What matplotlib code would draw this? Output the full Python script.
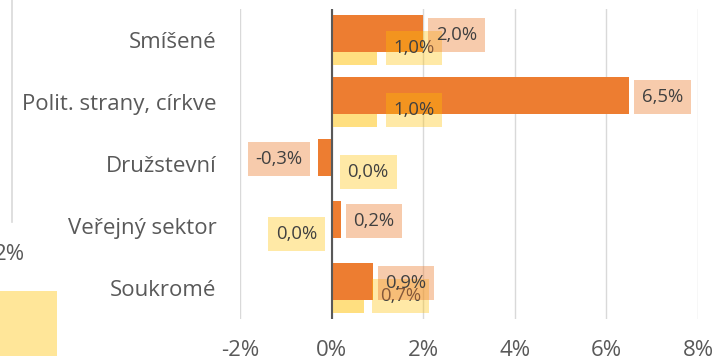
# -*- coding: utf-8 -*-

import numpy as np
import matplotlib
matplotlib.use('Agg')
import matplotlib.pyplot as plt
from matplotlib.patches import Rectangle
from matplotlib.lines import Line2D


# global plotting options
plt.rcParams['font.family'] = ['Open Sans', 'DejaVu Sans']
plt.rcParams['font.size'] = 12
plt.rcParams['axes.labelcolor'] = '#595959'
plt.rcParams['xtick.color'] = '#595959'
plt.rcParams['ytick.color'] = '#595959'

# data (bottom to top)
categories = ['Soukromé', 'Veřejný sektor', 'Družstevní',
              'Polit. strany, církve', 'Smíšené']
orange_vals = [0.9, 0.2, -0.3, 6.5, 2.0]
yellow_vals = [0.7, 0.0, 0.0, 1.0, 1.0]
x_ticks = [-2, 0, 2, 4, 6, 8]

# label of the zero value in 'Veřejný sektor' sits left of the axis
yellow_left = [False, True, False, False, False]

c_orange = '#ED7D31'
c_yellow = '#FFDF80'


def fmt(v):
    return ('%.1f' % v).replace('.', ',') + '%'


fig = plt.figure(figsize=(7.15, 3.56), dpi=100)
ax = fig.add_axes([240 / 715, 1 - 319 / 356, 458 / 715, 310 / 356])

y = np.arange(len(categories))
h = 0.61
off = 0.105

ax.barh(y - off, yellow_vals, height=h, color=c_yellow, zorder=2)
ax.barh(y + off, orange_vals, height=h, color=c_orange, zorder=3)

# data labels
lab = dict(fontsize=13.3, color='#404040', va='center',
           textcoords='offset points')
for i, v in enumerate(yellow_vals):
    left = yellow_left[i] or v < 0
    ax.annotate(fmt(v), (v, y[i] - off),
                xytext=(-10.5 if left else 11.5, -1),
                ha='right' if left else 'left', zorder=5,
                bbox=dict(boxstyle='square,pad=0.42', fc='#FFC000',
                          ec='none', alpha=0.35), **lab)
for i, v in enumerate(orange_vals):
    left = v < 0
    ax.annotate(fmt(v), (v, y[i] + off),
                xytext=(-11 if left else 9, -1),
                ha='right' if left else 'left', zorder=6,
                bbox=dict(boxstyle='square,pad=0.42', fc=c_orange,
                          ec='none', alpha=0.4), **lab)

ax.set_xlim(-2, 8)
ax.set_ylim(-0.5, len(categories) - 0.5)
ax.set_xticks(x_ticks)
ax.set_xticklabels(['%d%%' % t for t in x_ticks])
ax.set_yticks(y)
ax.set_yticklabels(categories)
ax.tick_params(axis='both', length=0, labelsize=16)
ax.tick_params(axis='x', pad=15)
ax.tick_params(axis='y', pad=17)

ax.grid(axis='x', color='#D9D9D9', linewidth=1, zorder=0)
ax.set_axisbelow(True)
ax.axvline(0, color='#595959', linewidth=1.5, zorder=4)
for s in ax.spines.values():
    s.set_visible(False)

# pieces of the neighbouring chart on the left
fig.add_artist(Line2D([12 / 715, 12 / 715], [1 - 222 / 356, 1.0],
                      color='#D9D9D9', linewidth=1.2))
fig.text(25 / 715, 1 - 255 / 356, '2%', ha='right', va='center',
         fontsize=16, color='#595959')
fig.add_artist(Rectangle((0, 0), 57 / 715, 65 / 356, color='#FFE699',
                         linewidth=0))

plt.savefig('out.png', dpi=100)
